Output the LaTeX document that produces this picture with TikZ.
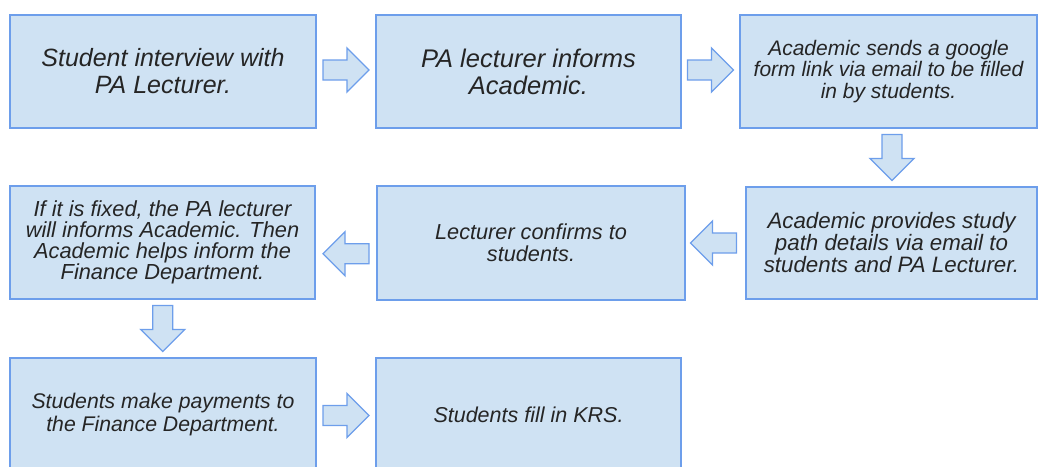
\documentclass[tikz,border=0pt]{standalone}
\usepackage{fontspec}
\setmainfont{Liberation Sans}
\usetikzlibrary{calc}

\definecolor{boxfill}{HTML}{CFE2F3}
\definecolor{boxline}{HTML}{6D9EEB}
\definecolor{boxtext}{HTML}{252525}

% block arrow pointing along +x, centred at #1, turned by #2 degrees
\newcommand\blockarrow[2]{%
  \draw[flowarrow, shift={(#1)}, rotate=#2]
    (-23pt,-10pt) -- (1pt,-10pt) -- (1pt,-22pt) -- (23pt,0pt)
    -- (1pt,22pt) -- (1pt,10pt) -- (-23pt,10pt) -- cycle;}

\newcommand\fs[2]{\fontsize{#1}{#2}\selectfont\itshape}

\tikzset{
  stepbox/.style={draw=boxline, fill=boxfill, line width=1.5pt,
    inner sep=0pt, align=center, text=boxtext,
    minimum width=#1, minimum height=113pt},
  flowarrow/.style={draw=boxline, fill=boxfill, line width=1.3pt,
    line join=miter},
}

\begin{document}
\begin{tikzpicture}[x=1pt, y=-1pt]
  \useasboundingbox (0,0) rectangle (1038,466);
  \clip (0,0) rectangle (1038,466);

  % first row
  \node[stepbox=306pt, font=\fs{25}{27}] (b1) at (163,71.5)
    {Student interview with\\PA Lecturer.};
  \node[stepbox=305pt, font=\fs{25.5}{27}] (b2) at (528.5,71.5)
    {PA lecturer informs\\Academic.};
  \node[stepbox=297pt, font=\fs{21}{21.5}] (b3) at (888.5,71.5)
    {Academic sends a google\\form link via email to be filled\\in by students.};

  % second row
  \node[stepbox=291pt, minimum height=112pt, font=\fs{22.3}{22}] (b6) at (891.5,243)
    {Academic provides study\\path details via email to\\students and PA Lecturer.};
  \node[stepbox=308pt, minimum height=114pt, font=\fs{21.7}{22}] (b5) at (531,243)
    {Lecturer confirms to\\students.};
  \node[stepbox=305pt, font=\fs{21.8}{21}] (b4) at (162.5,242.5)
    {If it is fixed, the PA lecturer\\will informs Academic. Then\\Academic helps inform the\\Finance Department.};

  % third row
  \node[stepbox=306pt, font=\fs{21.2}{23}] (b7) at (163,414.5)
    {Students make payments to\\the Finance Department.};
  \node[stepbox=305pt, font=\fs{21.5}{23}] (b8) at (528.5,414.5)
    {Students fill in KRS.};

  % arrows between the steps
  \blockarrow{$(b1.east)!0.5!(b2.west)+(0,-1.5)$}{0}
  \blockarrow{$(b2.east)!0.5!(b3.west)+(0,-1.5)$}{0}
  \blockarrow{$(b3.south)!0.5!(b6.north)+(2,0)$}{-90}
  \blockarrow{$(b6.west)!0.5!(b5.east)+(-2,0)$}{180}
  \blockarrow{$(b5.west)!0.5!(b4.east)+(0,11)$}{180}
  \blockarrow{$(b4.south)!0.5!(b7.north)$}{-90}
  \blockarrow{$(b7.east)!0.5!(b8.west)+(0,1)$}{0}
\end{tikzpicture}
\end{document}
